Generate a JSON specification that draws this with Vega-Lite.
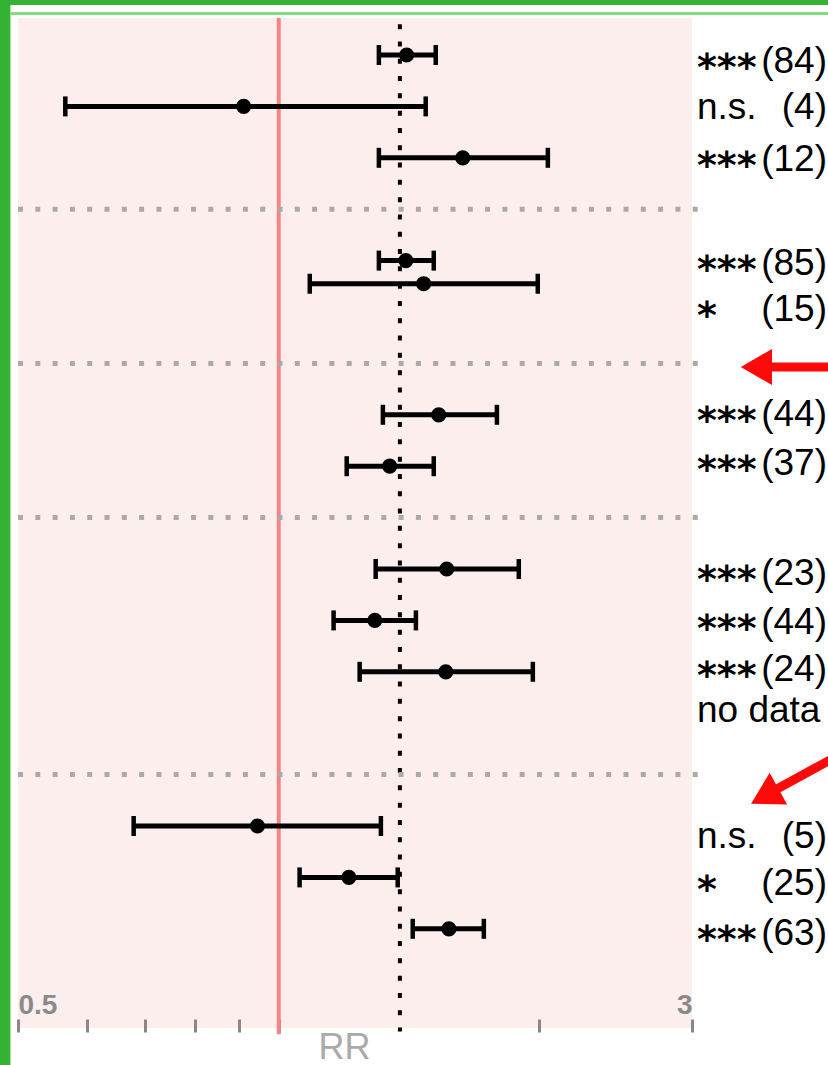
{
  "$schema": "https://vega.github.io/schema/vega-lite/v6.json",
  "width": 674,
  "height": 1010,
  "autosize": "none",
  "padding": {"left": 18, "top": 18, "right": 136, "bottom": 37},
  "background": "white",
  "config": {"view": {"fill": "#fdeeee", "stroke": null}, "font": "Liberation Sans"},
  "datasets": {
    "one": [{}],
    "est": [
      {"row": 0, "rr": 1.405, "lo": 1.305, "hi": 1.518},
      {"row": 1, "rr": 0.911, "lo": 0.567, "hi": 1.478},
      {"row": 2, "rr": 1.631, "lo": 1.305, "hi": 2.045},
      {"row": 4, "rr": 1.402, "lo": 1.305, "hi": 1.51},
      {"row": 4.45, "rr": 1.47, "lo": 1.086, "hi": 1.991},
      {"row": 7, "rr": 1.53, "lo": 1.319, "hi": 1.786},
      {"row": 8, "rr": 1.343, "lo": 1.198, "hi": 1.51},
      {"row": 10, "rr": 1.563, "lo": 1.294, "hi": 1.893},
      {"row": 11, "rr": 1.291, "lo": 1.157, "hi": 1.44},
      {"row": 12, "rr": 1.559, "lo": 1.24, "hi": 1.965},
      {"row": 15, "rr": 0.945, "lo": 0.68, "hi": 1.312},
      {"row": 16, "rr": 1.205, "lo": 1.057, "hi": 1.372},
      {"row": 17, "rr": 1.572, "lo": 1.428, "hi": 1.725}
    ],
    "labels": [
      {"row": 0.1, "star": "***", "word": "", "count": "(84)"},
      {"row": 1, "star": "", "word": "n.s.", "count": "(4)"},
      {"row": 2, "star": "***", "word": "", "count": "(12)"},
      {"row": 4.03, "star": "***", "word": "", "count": "(85)"},
      {"row": 4.92, "star": "*", "word": "", "count": "(15)"},
      {"row": 6.96, "star": "***", "word": "", "count": "(44)"},
      {"row": 7.92, "star": "***", "word": "", "count": "(37)"},
      {"row": 10.06, "star": "***", "word": "", "count": "(23)"},
      {"row": 11.01, "star": "***", "word": "", "count": "(44)"},
      {"row": 11.93, "star": "***", "word": "", "count": "(24)"},
      {"row": 12.72, "star": "", "word": "no data", "count": ""},
      {"row": 15.18, "star": "", "word": "n.s.", "count": "(5)"},
      {"row": 16.09, "star": "*", "word": "", "count": "(25)"},
      {"row": 17.06, "star": "***", "word": "", "count": "(63)"}
    ],
    "seps": [{"row": 3}, {"row": 6}, {"row": 9}, {"row": 14}]
  },
  "layer": [
    {
      "data": {"name": "one"},
      "mark": {"type": "rule", "color": "#f78484", "strokeWidth": 4, "clip": false},
      "encoding": {
        "x": {"datum": 1, "type": "quantitative", "scale": {"type": "log", "domain": [0.5, 3], "nice": false},
          "axis": {
            "values": [0.5, 0.6, 0.7, 0.8, 0.9, 1, 2, 3],
            "labelExpr": "datum.value == 0.5 ? '0.5' : (datum.value == 3 ? '3' : '')",
            "labelFlush": true,
            "labelFontSize": 28,
            "labelFontWeight": "bold",
            "labelColor": "#8a8a8a",
            "labelBaseline": "middle",
            "labelPadding": -27,
            "tickSize": 13,
            "tickWidth": 3,
            "tickColor": "#888888",
            "domain": false,
            "grid": false,
            "offset": -9,
            "title": "RR",
            "titleFontSize": 36,
            "titleFontWeight": "normal",
            "titleColor": "#aaaaaa",
            "titleX": 326,
            "titleY": 39,
            "titleBaseline": "alphabetic"
          }
        },
        "y": {"datum": -0.72, "type": "quantitative", "scale": {"domain": [-0.72, 18.93], "reverse": true, "nice": false, "zero": false}, "axis": null},
        "y2": {"datum": 19.05}
      }
    },
    {
      "data": {"name": "one"},
      "mark": {"type": "rule", "color": "black", "strokeWidth": 4, "strokeDash": [5, 12.3], "clip": false},
      "encoding": {
        "x": {"datum": 1.38, "type": "quantitative"},
        "y": {"datum": -0.6, "type": "quantitative"},
        "y2": {"datum": 19.0}
      }
    },
    {
      "data": {"name": "seps"},
      "mark": {"type": "rule", "color": "#aaaaaa", "strokeWidth": 5, "strokeDash": [5, 12.3], "clip": false},
      "encoding": {
        "x": {"datum": 0.5, "type": "quantitative"},
        "x2": {"datum": 3.06},
        "y": {"field": "row", "type": "quantitative"}
      }
    },
    {
      "data": {"name": "est"},
      "mark": {"type": "rule", "color": "black", "strokeWidth": 5},
      "encoding": {
        "x": {"field": "lo", "type": "quantitative"},
        "x2": {"field": "hi"},
        "y": {"field": "row", "type": "quantitative"}
      }
    },
    {
      "data": {"name": "est"},
      "mark": {"type": "tick", "orient": "vertical", "color": "black", "size": 20, "thickness": 4.5, "opacity": 1},
      "encoding": {
        "x": {"field": "lo", "type": "quantitative"},
        "y": {"field": "row", "type": "quantitative"}
      }
    },
    {
      "data": {"name": "est"},
      "mark": {"type": "tick", "orient": "vertical", "color": "black", "size": 20, "thickness": 4.5, "opacity": 1},
      "encoding": {
        "x": {"field": "hi", "type": "quantitative"},
        "y": {"field": "row", "type": "quantitative"}
      }
    },
    {
      "data": {"name": "est"},
      "mark": {"type": "point", "shape": "circle", "filled": true, "color": "black", "size": 230, "opacity": 1},
      "encoding": {
        "x": {"field": "rr", "type": "quantitative"},
        "y": {"field": "row", "type": "quantitative"}
      }
    },
    {
      "data": {"name": "labels"},
      "mark": {"type": "text", "align": "left", "baseline": "alphabetic", "dx": 5, "dy": 20, "font": "DejaVu Sans", "fontSize": 38, "fontWeight": "bold", "color": "black", "clip": false},
      "encoding": {
        "x": {"datum": 3, "type": "quantitative"},
        "y": {"field": "row", "type": "quantitative"},
        "text": {"field": "star"}
      }
    },
    {
      "data": {"name": "labels"},
      "mark": {"type": "text", "align": "left", "baseline": "alphabetic", "dx": 5, "dy": 13, "fontSize": 37, "color": "black", "clip": false},
      "encoding": {
        "x": {"datum": 3, "type": "quantitative"},
        "y": {"field": "row", "type": "quantitative"},
        "text": {"field": "word"}
      }
    },
    {
      "data": {"name": "labels"},
      "mark": {"type": "text", "align": "right", "baseline": "alphabetic", "dx": 135, "dy": 13, "fontSize": 37, "color": "black", "clip": false},
      "encoding": {
        "x": {"datum": 3, "type": "quantitative"},
        "y": {"field": "row", "type": "quantitative"},
        "text": {"field": "count"}
      }
    },
    {
      "data": {"name": "one"},
      "mark": {"type": "rule", "color": "#ff0a0a", "strokeWidth": 9, "clip": false},
      "encoding": {
        "x": {"datum": 3.7, "type": "quantitative"},
        "x2": {"datum": 4.4},
        "y": {"datum": 6.07, "type": "quantitative"}
      }
    },
    {
      "data": {"name": "one"},
      "mark": {"type": "point", "shape": "triangle-left", "filled": true, "color": "#ff0a0a", "size": 1300, "opacity": 1, "clip": false},
      "encoding": {
        "x": {"datum": 3.56, "type": "quantitative"},
        "y": {"datum": 6.07, "type": "quantitative"}
      }
    },
    {
      "data": {"name": "one"},
      "mark": {"type": "rule", "color": "#ff0a0a", "strokeWidth": 9, "clip": false},
      "encoding": {
        "x": {"datum": 3.76, "type": "quantitative"},
        "x2": {"datum": 4.4},
        "y": {"datum": 14.28, "type": "quantitative"},
        "y2": {"datum": 13.65}
      }
    },
    {
      "data": {"name": "one"},
      "mark": {"type": "point", "shape": "triangle-left", "filled": true, "color": "#ff0a0a", "size": 1300, "opacity": 1, "angle": 331, "clip": false},
      "encoding": {
        "x": {"datum": 3.64, "type": "quantitative"},
        "y": {"datum": 14.42, "type": "quantitative"}
      }
    },
    {
      "data": {"name": "one"},
      "mark": {"type": "rect", "color": "#33b233", "opacity": 1, "clip": false},
      "encoding": {
        "x": {"datum": 0.47, "type": "quantitative"},
        "x2": {"datum": 0.49},
        "y": {"datum": -1.1, "type": "quantitative"},
        "y2": {"datum": 19.7}
      }
    },
    {
      "data": {"name": "one"},
      "mark": {"type": "rect", "color": "#33b233", "opacity": 1, "clip": false},
      "encoding": {
        "x": {"datum": 0.47, "type": "quantitative"},
        "x2": {"datum": 4.4},
        "y": {"datum": -1.1, "type": "quantitative"},
        "y2": {"datum": -0.973}
      }
    },
    {
      "data": {"name": "one"},
      "mark": {"type": "rect", "color": "#80dd80", "opacity": 1, "clip": false},
      "encoding": {
        "x": {"datum": 0.49, "type": "quantitative"},
        "x2": {"datum": 4.4},
        "y": {"datum": -0.837, "type": "quantitative"},
        "y2": {"datum": -0.778}
      }
    }
  ]
}
